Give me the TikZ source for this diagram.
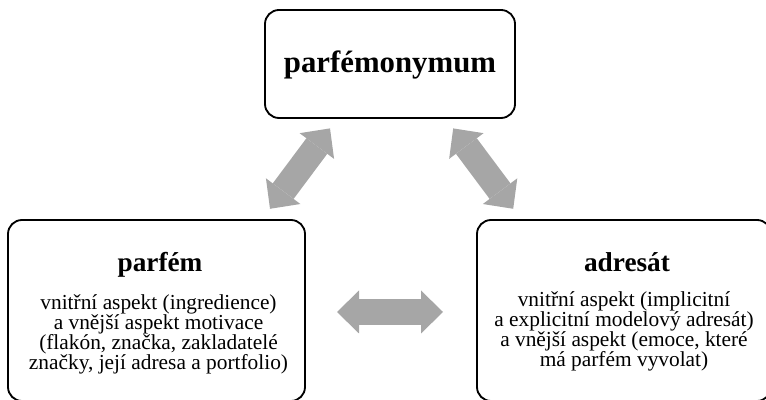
\documentclass[tikz,border=0pt]{standalone}
\usepackage{fontspec}
\setmainfont{Liberation Serif}
\usetikzlibrary{arrows.meta}
\definecolor{linkgray}{RGB}{166,166,166}
\tikzset{
  box/.style={draw, rounded corners=0.35cm, line width=1.3pt},
  headline/.style={font=\fontsize{19.4}{23}\selectfont\bfseries, anchor=base},
  body/.style={font=\fontsize{15.2}{14.4}\selectfont, align=center, anchor=base},
  link/.style={draw=linkgray, line width=0.65cm,
    {Triangle[length=0.55cm, width=1.075cm, line width=0pt]}-{Triangle[length=0.55cm, width=1.075cm, line width=0pt]}}
}
\begin{document}
\begin{tikzpicture}
    \path[use as bounding box, clip] (0,0) rectangle (19.15,10);

    \node[box, minimum width=6.25cm, minimum height=2.7cm] (parfemonymum) at (9.75,8.4) {};
    \node[box, minimum width=7.425cm, minimum height=4.525cm] (parfem) at (3.9125,2.2375) {};
    \node[box, minimum width=7.35cm, minimum height=4.525cm] (adresat) at (15.6,2.2375) {};

    \node[headline, font=\fontsize{21.9}{26}\selectfont\bfseries] (parfemonymumtitle) at (9.75,8.175) {parfémonymum};
    \node[headline] (parfemtitle) at (4.0,3.2) {parfém};
    \node[headline] (adresattitle) at (15.675,3.2) {adresát};

    \node[body] (parfemtext) at (3.9625,0.75) {vnitřní aspekt (ingredience)\\a vnější aspekt motivace\\(flakón, značka, zakladatelé\\značky, její adresa a portfolio)};
    \node[body] (adresattext) at (15.6,0.83) {vnitřní aspekt (implicitní\\a explicitní modelový adresát)\\a vnější aspekt (emoce, které\\má parfém vyvolat)};

    \coordinate (leftlow) at (6.75,4.78);
    \coordinate (lefthigh) at (8.25,6.79);
    \coordinate (rightlow) at (12.83,4.78);
    \coordinate (righthigh) at (11.33,6.79);
    \coordinate (midleft) at (8.425,2.2);
    \coordinate (midright) at (11.075,2.2);

    \draw[link] (leftlow) -- (lefthigh);
    \draw[link] (righthigh) -- (rightlow);
    \draw[link] (midleft) -- (midright);
\end{tikzpicture}
\end{document}
